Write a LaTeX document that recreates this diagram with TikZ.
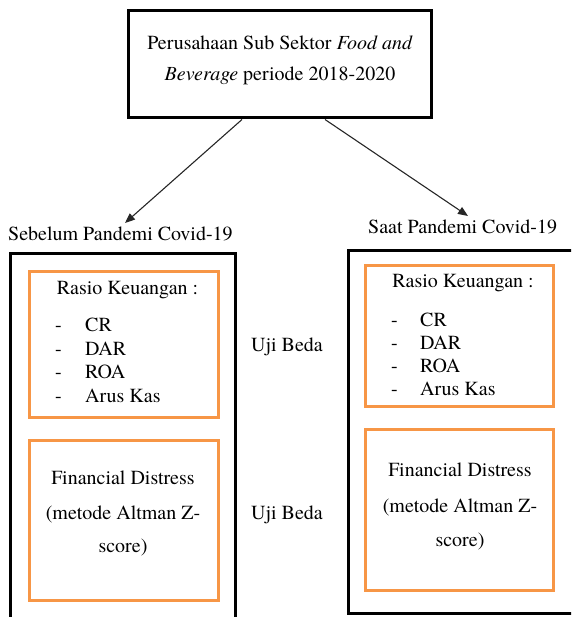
\documentclass[tikz,border=0pt]{standalone}
\usepackage{fontspec}
\setmainfont{TeX Gyre Termes}
\usetikzlibrary{arrows.meta,calc}
\definecolor{boxorange}{RGB}{247,150,70}
\tikzset{
  blackbox/.style={draw=black, line width=3pt, fill=none, inner sep=0pt},
  orangebox/.style={draw=boxorange, line width=3pt, fill=none, inner sep=0pt},
  txt/.style={inner sep=0pt, font=\fontsize{20}{23.5}\selectfont},
  listtxt/.style={inner sep=0pt, align=left, anchor=north west},
  arr/.style={line width=1.1pt, draw=black!85, -{Triangle[length=10pt,width=8pt]}}
}
\begin{document}
\begin{tikzpicture}[x=1pt,y=-1pt]
\useasboundingbox (0,0) rectangle (571,617);
\clip (0,0) rectangle (571,617);
% top box
\node[blackbox, minimum width=303pt, minimum height=107pt] (top) at (279.5,64.5) {};
\node[txt] (t1) at (280,43) {Perusahaan Sub Sektor \textit{Food and}};
\node[txt] (t2) at (280,76) {\textit{Beverage} periode 2018-2020};
% labels
\node[txt, anchor=west] (lblL) at (8,234) {Sebelum Pandemi Covid-19};
\node[txt, anchor=west] (lblR) at (368,227) {Saat Pandemi Covid-19};
% arrows
\coordinate (tipL) at (125,223);
\coordinate (tipR) at (468,216);
\draw[arr] ([xshift=-37.5pt]top.south) -- (tipL);
\draw[arr] ([xshift=45.5pt]top.south) -- (tipR);
% outer boxes
\node[blackbox, minimum width=225pt, minimum height=400pt] (outL) at (122.5,453) {};
\node[blackbox, minimum width=240pt, minimum height=363pt] (outR) at (468,431.5) {};
% left orange boxes
\node[orangebox, minimum width=189pt, minimum height=146pt] (rkL) at (123.5,344) {};
\node[orangebox, minimum width=189pt, minimum height=160pt] (fdL) at (123.5,520) {};
% right orange boxes
\node[orangebox, minimum width=188pt, minimum height=141pt] (rkR) at (459,335.5) {};
\node[orangebox, minimum width=188pt, minimum height=161pt] (fdR) at (459,509.5) {};
% left texts
\node[txt] (rkLh) at (127.5,290) {Rasio Keuangan :};
\node[txt, listtxt] (rkLl) at (55,318) {\makebox[30pt][l]{-}CR\\\makebox[30pt][l]{-}DAR\\\makebox[30pt][l]{-}ROA\\\makebox[30pt][l]{-}Arus Kas};
\node[txt] (fdL1) at (123,478) {Financial Distress};
\node[txt] (fdL2) at (123,514) {(metode Altman Z-};
\node[txt] (fdL3) at (123,548) {score)};
% right texts
\node[txt] (rkRh) at (463,283) {Rasio Keuangan :};
\node[txt, listtxt, font=\fontsize{20}{23}\selectfont] (rkRl) at (391,312.5) {\makebox[29pt][l]{-}CR\\\makebox[29pt][l]{-}DAR\\\makebox[29pt][l]{-}ROA\\\makebox[29pt][l]{-}Arus Kas};
\node[txt] (fdR1) at (460,470) {Financial Distress};
\node[txt] (fdR2) at (460,507) {(metode Altman Z-};
\node[txt] (fdR3) at (460,542) {score)};
% middle
\node[txt] (uji1) at (287,347) {Uji Beda};
\node[txt] (uji2) at (287,515) {Uji Beda};
\end{tikzpicture}
\end{document}
